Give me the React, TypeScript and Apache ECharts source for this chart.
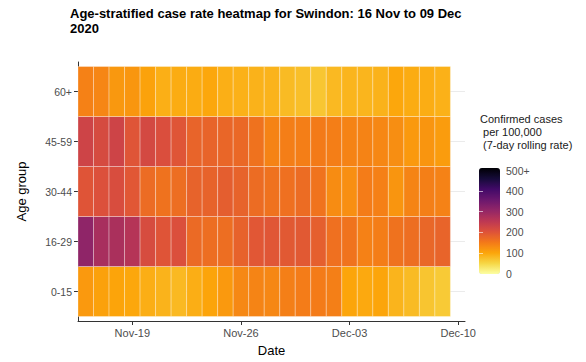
import React, { useEffect, useRef } from "react";
import * as echarts from "echarts";

const FONT = '"Liberation Sans", Arial, sans-serif';

const dates = [
  "2020-11-16", "2020-11-17", "2020-11-18", "2020-11-19", "2020-11-20", "2020-11-21",
  "2020-11-22", "2020-11-23", "2020-11-24", "2020-11-25", "2020-11-26", "2020-11-27",
  "2020-11-28", "2020-11-29", "2020-11-30", "2020-12-01", "2020-12-02", "2020-12-03",
  "2020-12-04", "2020-12-05", "2020-12-06", "2020-12-07", "2020-12-08", "2020-12-09",
];

// bottom to top
const ageGroups = ["0-15", "16-29", "30-44", "45-59", "60+"];

const rate0to15 = [113, 104, 101, 98, 91, 86, 80, 91, 101, 113, 132, 137, 133, 142, 146, 147, 142, 100, 96, 100, 85, 78, 68, 63];
const rate16to29 = [305, 275, 272, 258, 210, 196, 203, 168, 163, 163, 178, 192, 194, 190, 190, 182, 160, 156, 140, 144, 158, 163, 172, 176];
const rate30to44 = [196, 202, 207, 192, 166, 158, 163, 177, 177, 183, 177, 165, 158, 160, 165, 156, 128, 125, 146, 141, 118, 137, 142, 139];
const rate45to59 = [225, 212, 225, 195, 215, 205, 195, 176, 176, 173, 170, 158, 138, 143, 143, 148, 143, 138, 138, 133, 126, 113, 118, 110];
const rate60plus = [140, 135, 115, 117, 103, 90, 93, 93, 98, 90, 88, 87, 86, 78, 74, 67, 80, 84, 84, 87, 98, 93, 92, 88];

const xTickDates = ["2020-11-19", "2020-11-26", "2020-12-03", "2020-12-10"];
const xTickLabels = ["Nov-19", "Nov-26", "Dec-03", "Dec-10"];

const legendTicks = [0, 100, 200, 300, 400, 500];
const legendTickLabels = ["0", "100", "200", "300", "400", "500+"];

const infernoLowToHigh = [
  "#FCFFA4", "#F6D746", "#FCA50A", "#F37819", "#DD513A", "#BC3754",
  "#932667", "#6A176E", "#420A68", "#160B39", "#000004",
];

const DAY = 86400000;

export default function App() {
  const ref = useRef<HTMLDivElement>(null);

  useEffect(() => {
    if (!ref.current) return;
    const chart = echarts.init(ref.current, undefined, { renderer: "svg" });

    const t0 = Date.parse(dates[0]);
    const rows = [rate0to15, rate16to29, rate30to44, rate45to59, rate60plus];
    const data: number[][] = [];
    rows.forEach((vals, r) => {
      vals.forEach((v, i) => {
        data.push([(Date.parse(dates[i]) - t0) / DAY, r, v]);
      });
    });
    const xTickPos = xTickDates.map((d) => (Date.parse(d) - t0) / DAY);

    const option: any = {
      animation: false,
      backgroundColor: "#ffffff",
      textStyle: { fontFamily: FONT },
      title: [
        {
          text: "Age-stratified case rate heatmap for Swindon: 16 Nov to 09 Dec\n2020",
          left: 70,
          top: 6,
          padding: 0,
          textStyle: {
            fontFamily: FONT,
            fontSize: 13,
            fontWeight: "bold",
            color: "#000000",
            lineHeight: 15,
          },
        },
        {
          text: "Confirmed cases\n per 100,000\n (7-day rolling rate)",
          left: 480,
          top: 112,
          padding: 0,
          textStyle: {
            fontFamily: FONT,
            fontSize: 11,
            fontWeight: "normal",
            color: "#1a1a1a",
            lineHeight: 13.3,
          },
        },
      ],
      grid: [
        { left: 78, right: 121, top: 62, bottom: 40 },
        { left: 479, width: 21, top: 170.5, height: 103 },
      ],
      xAxis: [
        {
          type: "value",
          gridIndex: 0,
          min: -0.5,
          max: 24.44,
          name: "Date",
          nameLocation: "middle",
          nameGap: 23,
          nameTextStyle: { fontFamily: FONT, fontSize: 13, color: "#000000" },
          axisLine: { show: true, onZero: false, lineStyle: { color: "#333333", width: 1 } },
          axisTick: {
            show: true,
            length: 4,
            customValues: xTickPos,
            lineStyle: { color: "#333333" },
          },
          axisLabel: {
            customValues: xTickPos,
            margin: 6,
            fontFamily: FONT,
            fontSize: 11,
            color: "#4d4d4d",
            formatter: (v: number) => {
              const i = xTickPos.findIndex((p) => Math.abs(p - v) < 1e-6);
              return i >= 0 ? xTickLabels[i] : "";
            },
          },
          splitLine: { show: false },
        },
        { type: "value", gridIndex: 1, min: 0, max: 1, show: false },
      ],
      yAxis: [
        {
          type: "value",
          gridIndex: 0,
          min: -0.59,
          max: 4.59,
          name: "Age group",
          nameLocation: "middle",
          nameRotate: 90,
          nameGap: 50,
          nameTextStyle: { fontFamily: FONT, fontSize: 13, color: "#000000" },
          axisLine: { show: true, onZero: false, lineStyle: { color: "#333333", width: 1 } },
          axisTick: {
            show: true,
            length: 4,
            customValues: [0, 1, 2, 3, 4],
            lineStyle: { color: "#333333" },
          },
          axisLabel: {
            customValues: [0, 1, 2, 3, 4],
            margin: 6,
            fontFamily: FONT,
            fontSize: 10.5,
            color: "#4d4d4d",
            formatter: (v: number) => ageGroups[Math.round(v)] ?? "",
          },
          splitLine: { show: true, lineStyle: { color: "#ebebeb", width: 1 } },
        },
        {
          type: "value",
          gridIndex: 1,
          min: 0,
          max: 500,
          position: "right",
          z: 10,
          axisLine: { show: false },
          axisTick: {
            show: true,
            inside: true,
            length: 4,
            customValues: [100, 200, 300, 400],
            lineStyle: { color: "rgba(255,255,255,0.6)", width: 1 },
          },
          axisLabel: {
            customValues: legendTicks,
            margin: 6,
            fontFamily: FONT,
            fontSize: 10.5,
            color: "#4d4d4d",
            formatter: (v: number) => {
              const i = legendTicks.indexOf(Math.round(v));
              return i >= 0 ? legendTickLabels[i] : "";
            },
          },
          splitLine: { show: false },
        },
        {
          type: "value",
          gridIndex: 1,
          min: 0,
          max: 500,
          position: "left",
          z: 10,
          axisLine: { show: false },
          axisTick: {
            show: true,
            inside: true,
            length: 4,
            customValues: [100, 200, 300, 400],
            lineStyle: { color: "rgba(255,255,255,0.6)", width: 1 },
          },
          axisLabel: { show: false },
          splitLine: { show: false },
        },
      ],
      visualMap: {
        type: "continuous",
        min: 0,
        max: 500,
        dimension: 2,
        seriesIndex: 0,
        orient: "vertical",
        left: 479,
        top: 168,
        itemWidth: 21,
        itemHeight: 106,
        padding: 0,
        calculable: false,
        hoverLink: false,
        text: null,
        inRange: { color: infernoLowToHigh },
        textStyle: { fontFamily: FONT, fontSize: 10.5, color: "#4d4d4d" },
      },
      series: [
        {
          type: "custom",
          coordinateSystem: "cartesian2d",
          xAxisIndex: 0,
          yAxisIndex: 0,
          encode: { x: 0, y: 1 },
          data,
          renderItem: (params: any, api: any) => {
            const x = api.value(0);
            const y = api.value(1);
            const p0 = api.coord([x - 0.5, y + 0.5]);
            const p1 = api.coord([x + 0.5, y - 0.5]);
            return {
              type: "rect",
              shape: {
                x: p0[0],
                y: p0[1],
                width: p1[0] - p0[0],
                height: p1[1] - p0[1],
              },
              style: {
                fill: api.visual("color"),
                stroke: "rgba(255,255,255,0.3)",
                lineWidth: 1,
              },
            };
          },
        },
      ],
    };

    chart.setOption(option);
    return () => chart.dispose();
  }, []);

  return (
    <div
      ref={ref}
      style={{ position: "fixed", left: 0, top: 0, width: 586, height: 362, background: "#fff" }}
    />
  );
}
